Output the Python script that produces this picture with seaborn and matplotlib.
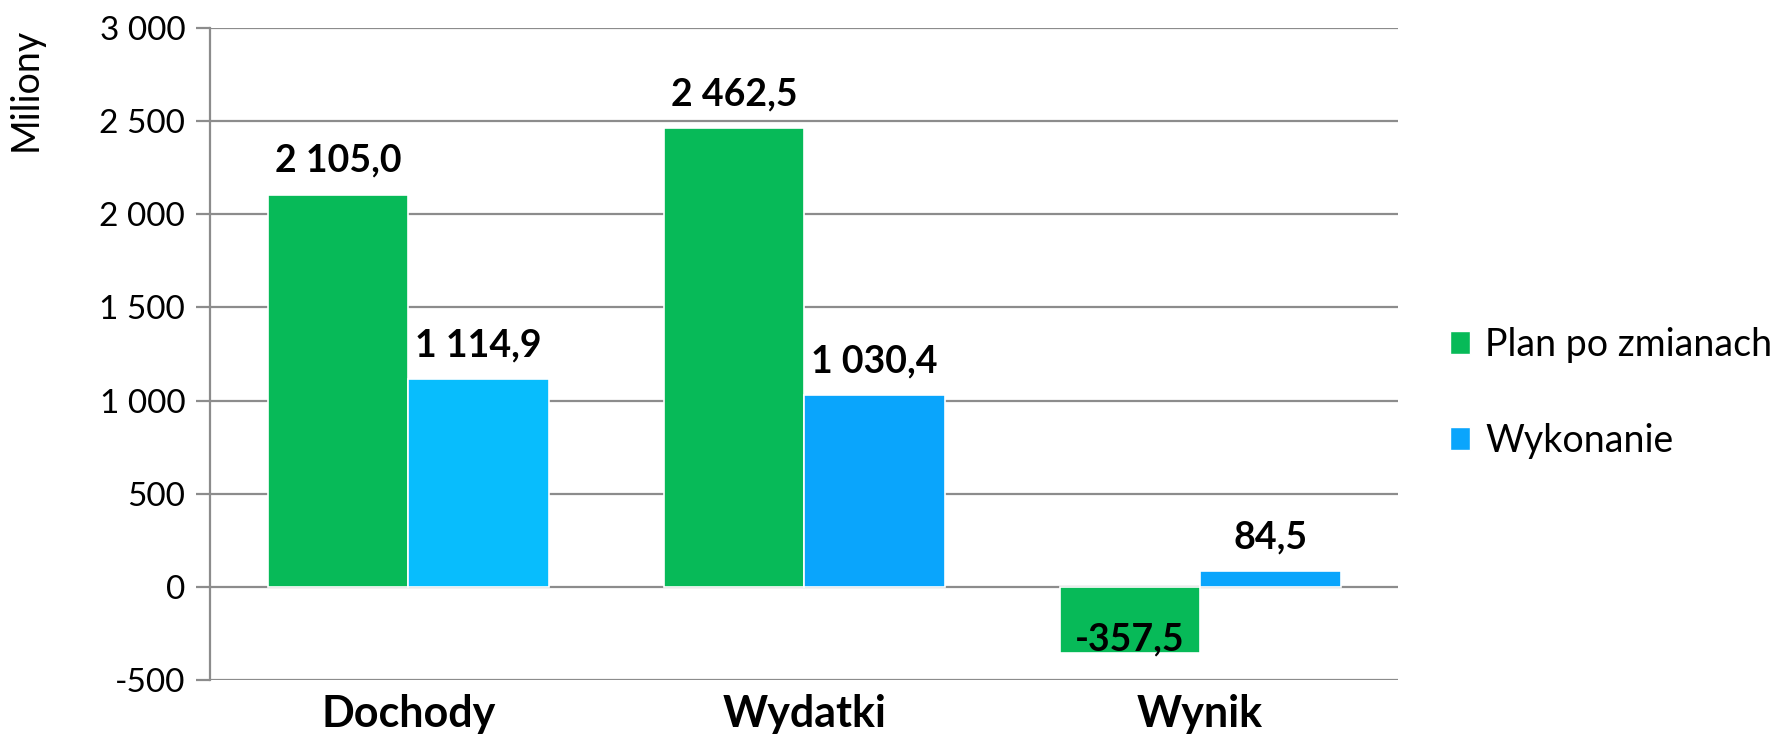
import pandas as pd
import seaborn as sns
import matplotlib.pyplot as plt
from matplotlib.patches import Patch

# Data
categories = ["Dochody", "Wydatki", "Wynik"]
series = ["Plan po zmianach", "Wykonanie"]
plan = [2105.0, 2462.5, -357.5]
wykonanie = [1114.9, 1030.4, 84.5]
yticks = [-500, 0, 500, 1000, 1500, 2000, 2500, 3000]

green = "#07BA58"
blue = "#0AA5FC"
light_blue = "#08BDFD"

df = pd.DataFrame({
    "kategoria": categories * 2,
    "seria": [series[0]] * 3 + [series[1]] * 3,
    "wartosc": plan + wykonanie,
})


def fmt(v, dec=True):
    s = f"{abs(v):,.1f}" if dec else f"{abs(v):,.0f}"
    s = s.replace(",", " ").replace(".", ",")
    return ("-" if v < 0 else "") + s


sns.set_style("white")
plt.rcParams["font.family"] = ["Lato", "DejaVu Sans"]
plt.rcParams["text.color"] = "black"
plt.rcParams["axes.labelcolor"] = "black"
plt.rcParams["xtick.color"] = "black"
plt.rcParams["ytick.color"] = "black"

fig = plt.figure(figsize=(17.81, 7.47), dpi=100)
ax = fig.add_axes([0.118, 0.0897, 0.667, 0.873])

sns.barplot(
    data=df, x="kategoria", y="wartosc", hue="seria",
    palette=[green, blue], saturation=1, width=0.71, ax=ax,
    edgecolor="white", linewidth=1.2, legend=False,
)
# first "Wykonanie" bar is a lighter blue in the original
ax.containers[1][0].set_facecolor(light_blue)

ax.set_ylim(-500, 3000)
ax.set_yticks(yticks)
ax.set_yticklabels([fmt(t, dec=False) for t in yticks], fontsize=24)
ax.yaxis.grid(True, color="#8c8c8c", linewidth=1.6)
ax.set_axisbelow(True)
ax.tick_params(axis="y", length=10, color="#8c8c8c", labelcolor="black", width=1.6, pad=8, left=True)
ax.tick_params(axis="x", length=0, pad=10, labelcolor="black")
for lbl in ax.get_xticklabels():
    lbl.set_fontsize(31)
    lbl.set_fontweight("bold")

for side in ["top", "right", "bottom"]:
    ax.spines[side].set_visible(False)
ax.spines["left"].set_color("#8c8c8c")
ax.spines["left"].set_linewidth(1.6)

ax.set_xlabel("")
ax.set_ylabel("Miliony", fontsize=27)
ax.yaxis.set_label_coords(-0.14, 0.905)

# data labels
for cont in ax.containers:
    for bar in cont:
        v = bar.get_height()
        x = bar.get_x() + bar.get_width() / 2
        if v >= 0:
            ax.annotate(fmt(v), (x, v), xytext=(0, 12), textcoords="offset points",
                        ha="center", va="bottom", fontsize=27, fontweight="bold")
        else:
            ax.annotate(fmt(v), (x, v), xytext=(0, -2), textcoords="offset points",
                        ha="center", va="bottom", fontsize=27, fontweight="bold")

handles = [Patch(facecolor=green, edgecolor="white"), Patch(facecolor=blue, edgecolor="white")]
ax.legend(handles, series, loc="center left", bbox_to_anchor=(1.015, 0.44),
          frameon=False, fontsize=27, handlelength=0.55, handleheight=0.55,
          handletextpad=0.4, labelspacing=1.6)

fig.savefig("out.png", dpi=100)
plt.close(fig)
